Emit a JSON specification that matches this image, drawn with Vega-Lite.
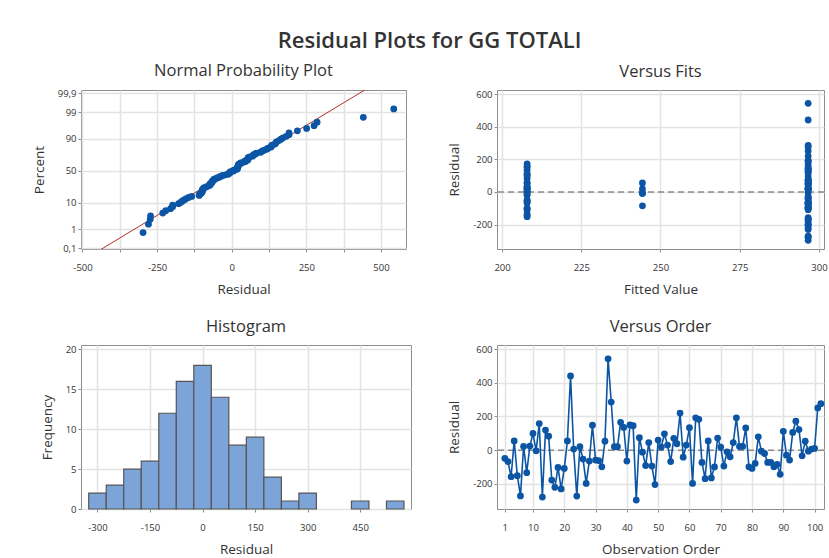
{
  "$schema": "https://vega.github.io/schema/vega-lite/v6.json",
  "background": "white",
  "padding": {"left": 31, "top": 30, "right": 5, "bottom": 5},
  "title": {"text": "Residual Plots for GG TOTALI", "fontSize": 22, "fontWeight": 600, "font": "Open Sans", "color": "#333333", "anchor": "middle", "frame": "bounds", "offset": -8, "baseline": "alphabetic"},
  "config": {
    "font": "Open Sans",
    "view": {"stroke": "#8c8c8c", "strokeWidth": 1},
    "axis": {"grid": true, "gridColor": "#e3e3e3", "gridWidth": 1.5, "domain": false, "ticks": true, "tickColor": "#8c8c8c", "tickSize": 3, "labelFont": "Open Sans", "labelFontSize": 9.5, "labelColor": "#333333", "titleFont": "Open Sans", "titleFontSize": 13.5, "titleFontWeight": "normal", "titleColor": "#333333", "labelPadding": 2, "labelOverlap": false},
    "axisX": {"labelPadding": 10, "titlePadding": 11},
    "title": {"font": "Open Sans", "fontSize": 16.5, "fontWeight": "normal", "color": "#333333", "baseline": "alphabetic", "offset": 9, "anchor": "middle"}
  },
  "datasets": {
    "res": [
      {"order":1,"residual":-49,"fit":207.9},{"order":2,"residual":-68,"fit":207.9},{"order":3,"residual":-158,"fit":296.6},{"order":4,"residual":55,"fit":296.6},
      {"order":5,"residual":-152,"fit":207.9},{"order":6,"residual":-272,"fit":296.6},{"order":7,"residual":22,"fit":296.6},{"order":8,"residual":-134,"fit":207.9},
      {"order":9,"residual":24,"fit":207.9},{"order":10,"residual":99,"fit":207.9},{"order":11,"residual":-4,"fit":207.9},{"order":12,"residual":158,"fit":207.9},
      {"order":13,"residual":-279,"fit":296.6},{"order":14,"residual":119,"fit":296.6},{"order":15,"residual":83,"fit":207.9},{"order":16,"residual":-178,"fit":296.6},
      {"order":17,"residual":-221,"fit":296.6},{"order":18,"residual":-103,"fit":207.9},{"order":19,"residual":-231,"fit":296.6},{"order":20,"residual":-109,"fit":207.9},
      {"order":21,"residual":55,"fit":296.6},{"order":22,"residual":441,"fit":296.6},{"order":23,"residual":6,"fit":207.9},{"order":24,"residual":-273,"fit":296.6},
      {"order":25,"residual":20,"fit":207.9},{"order":26,"residual":-53,"fit":207.9},{"order":27,"residual":-198,"fit":296.6},{"order":28,"residual":-65,"fit":296.6},
      {"order":29,"residual":148,"fit":296.6},{"order":30,"residual":-59,"fit":207.9},{"order":31,"residual":-62,"fit":296.6},{"order":32,"residual":-99,"fit":296.6},
      {"order":33,"residual":53,"fit":207.9},{"order":34,"residual":543,"fit":296.6},{"order":35,"residual":286,"fit":296.6},{"order":36,"residual":20,"fit":207.9},
      {"order":37,"residual":20,"fit":296.6},{"order":38,"residual":165,"fit":296.6},{"order":39,"residual":135,"fit":296.6},{"order":40,"residual":-65,"fit":296.6},
      {"order":41,"residual":150,"fit":207.9},{"order":42,"residual":145,"fit":296.6},{"order":43,"residual":-297,"fit":296.6},{"order":44,"residual":74,"fit":296.6},
      {"order":45,"residual":-12,"fit":207.9},{"order":46,"residual":-92,"fit":296.6},{"order":47,"residual":45,"fit":296.6},{"order":48,"residual":-95,"fit":296.6},
      {"order":49,"residual":-205,"fit":296.6},{"order":50,"residual":60,"fit":207.9},{"order":51,"residual":18,"fit":244.3},{"order":52,"residual":97,"fit":296.6},
      {"order":53,"residual":30,"fit":207.9},{"order":54,"residual":-68,"fit":296.6},{"order":55,"residual":70,"fit":296.6},{"order":56,"residual":38,"fit":207.9},
      {"order":57,"residual":220,"fit":296.6},{"order":58,"residual":-42,"fit":296.6},{"order":59,"residual":30,"fit":296.6},{"order":60,"residual":133,"fit":207.9},
      {"order":61,"residual":-198,"fit":296.6},{"order":62,"residual":192,"fit":296.6},{"order":63,"residual":183,"fit":296.6},{"order":64,"residual":-73,"fit":296.6},
      {"order":65,"residual":-170,"fit":296.6},{"order":66,"residual":55,"fit":244.3},{"order":67,"residual":-165,"fit":296.6},{"order":68,"residual":-100,"fit":296.6},
      {"order":69,"residual":72,"fit":296.6},{"order":70,"residual":18,"fit":296.6},{"order":71,"residual":-95,"fit":296.6},{"order":72,"residual":-10,"fit":244.3},
      {"order":73,"residual":-40,"fit":296.6},{"order":74,"residual":45,"fit":296.6},{"order":75,"residual":192,"fit":296.6},{"order":76,"residual":22,"fit":296.6},
      {"order":77,"residual":22,"fit":296.6},{"order":78,"residual":132,"fit":296.6},{"order":79,"residual":-99,"fit":207.9},{"order":80,"residual":-109,"fit":296.6},
      {"order":81,"residual":-79,"fit":296.6},{"order":82,"residual":79,"fit":296.6},{"order":83,"residual":-6,"fit":244.3},{"order":84,"residual":-20,"fit":207.9},
      {"order":85,"residual":-73,"fit":296.6},{"order":86,"residual":-73,"fit":296.6},{"order":87,"residual":-99,"fit":296.6},{"order":88,"residual":-85,"fit":244.3},
      {"order":89,"residual":-144,"fit":207.9},{"order":90,"residual":112,"fit":207.9},{"order":91,"residual":-30,"fit":296.6},{"order":92,"residual":-59,"fit":296.6},
      {"order":93,"residual":105,"fit":207.9},{"order":94,"residual":172,"fit":207.9},{"order":95,"residual":122,"fit":296.6},{"order":96,"residual":-34,"fit":296.6},
      {"order":97,"residual":53,"fit":296.6},{"order":98,"residual":-6,"fit":296.6},{"order":99,"residual":6,"fit":207.9},{"order":100,"residual":10,"fit":296.6},
      {"order":101,"residual":251,"fit":296.6},{"order":102,"residual":276,"fit":296.6}
    ],
    "npp": [
      {"residual":-297,"z":-2.466},{"residual":-279,"z":-2.130},{"residual":-273,"z":-1.937},{"residual":-272,"z":-1.797},{"residual":-231,"z":-1.686},
      {"residual":-221,"z":-1.592},{"residual":-205,"z":-1.511},{"residual":-198,"z":-1.438},{"residual":-198,"z":-1.372},{"residual":-178,"z":-1.312},
      {"residual":-170,"z":-1.256},{"residual":-165,"z":-1.205},{"residual":-158,"z":-1.155},{"residual":-152,"z":-1.109},{"residual":-144,"z":-1.065},
      {"residual":-134,"z":-1.022},{"residual":-109,"z":-0.982},{"residual":-109,"z":-0.943},{"residual":-103,"z":-0.905},{"residual":-100,"z":-0.869},
      {"residual":-99,"z":-0.834},{"residual":-99,"z":-0.800},{"residual":-99,"z":-0.766},{"residual":-95,"z":-0.734},{"residual":-95,"z":-0.702},
      {"residual":-92,"z":-0.671},{"residual":-85,"z":-0.641},{"residual":-79,"z":-0.611},{"residual":-73,"z":-0.582},{"residual":-73,"z":-0.553},
      {"residual":-73,"z":-0.525},{"residual":-68,"z":-0.497},{"residual":-68,"z":-0.470},{"residual":-65,"z":-0.442},{"residual":-65,"z":-0.416},
      {"residual":-62,"z":-0.389},{"residual":-59,"z":-0.363},{"residual":-59,"z":-0.337},{"residual":-53,"z":-0.311},{"residual":-49,"z":-0.285},
      {"residual":-42,"z":-0.260},{"residual":-40,"z":-0.235},{"residual":-34,"z":-0.210},{"residual":-30,"z":-0.185},{"residual":-20,"z":-0.160},
      {"residual":-12,"z":-0.135},{"residual":-10,"z":-0.110},{"residual":-6,"z":-0.086},{"residual":-6,"z":-0.061},{"residual":-4,"z":-0.037},
      {"residual":6,"z":-0.012},{"residual":6,"z":0.012},{"residual":10,"z":0.037},{"residual":18,"z":0.061},{"residual":18,"z":0.086},
      {"residual":20,"z":0.110},{"residual":20,"z":0.135},{"residual":20,"z":0.160},{"residual":22,"z":0.185},{"residual":22,"z":0.210},
      {"residual":22,"z":0.235},{"residual":24,"z":0.260},{"residual":30,"z":0.285},{"residual":30,"z":0.311},{"residual":38,"z":0.337},
      {"residual":45,"z":0.363},{"residual":45,"z":0.389},{"residual":53,"z":0.416},{"residual":53,"z":0.442},{"residual":55,"z":0.470},
      {"residual":55,"z":0.497},{"residual":55,"z":0.525},{"residual":60,"z":0.553},{"residual":70,"z":0.582},{"residual":72,"z":0.611},
      {"residual":74,"z":0.641},{"residual":79,"z":0.671},{"residual":83,"z":0.702},{"residual":97,"z":0.734},{"residual":99,"z":0.766},
      {"residual":105,"z":0.800},{"residual":112,"z":0.834},{"residual":119,"z":0.869},{"residual":122,"z":0.905},{"residual":132,"z":0.943},
      {"residual":133,"z":0.982},{"residual":135,"z":1.022},{"residual":145,"z":1.065},{"residual":148,"z":1.109},{"residual":150,"z":1.155},
      {"residual":158,"z":1.205},{"residual":165,"z":1.256},{"residual":172,"z":1.312},{"residual":183,"z":1.372},{"residual":192,"z":1.438},
      {"residual":192,"z":1.511},{"residual":220,"z":1.592},{"residual":251,"z":1.686},{"residual":276,"z":1.797},{"residual":286,"z":1.937},
      {"residual":441,"z":2.130},{"residual":543,"z":2.466}
    ],
    "fitline": [{"residual":-447,"z":-3.2},{"residual":457,"z":3.3}],
    "zero": [{"residual":0}],
    "hist": [
      {"x0":-325,"x1":-275,"count":2},{"x0":-275,"x1":-225,"count":3},{"x0":-225,"x1":-175,"count":5},{"x0":-175,"x1":-125,"count":6},
      {"x0":-125,"x1":-75,"count":12},{"x0":-75,"x1":-25,"count":16},{"x0":-25,"x1":25,"count":18},{"x0":25,"x1":75,"count":14},
      {"x0":75,"x1":125,"count":8},{"x0":125,"x1":175,"count":9},{"x0":175,"x1":225,"count":4},{"x0":225,"x1":275,"count":1},
      {"x0":275,"x1":325,"count":2},{"x0":425,"x1":475,"count":1},{"x0":525,"x1":575,"count":1}
    ]
  },
  "bounds": "flush",
  "align": "each",
  "columns": 2,
  "spacing": {"row": 96, "column": 86},
  "concat": [
    {
      "width": 325, "height": 159,
      "title": "Normal Probability Plot",
      "encoding": {
        "x": {"field": "residual", "type": "quantitative", "scale": {"domain": [-505, 584], "nice": false, "zero": false},
              "axis": {"title": "Residual", "values": [-500,-375,-250,-125,0,125,250,375,500], "labelOverlap": false, "labelExpr": "datum.value % 250 === 0 ? '' + datum.value : ''"}},
        "y": {"field": "z", "type": "quantitative", "scale": {"domain": [-3.12, 3.22], "nice": false, "zero": false},
              "axis": {"title": "Percent", "values": [-3.0902,-2.3263,-1.2816,0,1.2816,2.3263,3.0902], "labelOverlap": false, "minExtent": 25, "maxExtent": 25, "titlePadding": 10,
                       "labelExpr": "datum.value < -3 ? '0,1' : datum.value < -2 ? '1' : datum.value < -1 ? '10' : datum.value < 1 ? '50' : datum.value < 2 ? '90' : datum.value < 3 ? '99' : '99,9'"}}
      },
      "layer": [
        {"data": {"name": "fitline"}, "mark": {"type": "line", "color": "#b0302a", "strokeWidth": 1, "clip": true}},
        {"data": {"name": "npp"}, "mark": {"type": "circle", "size": 46, "color": "#0b55a4", "opacity": 1}}
      ]
    },
    {
      "width": 327, "height": 159,
      "title": "Versus Fits",
      "encoding": {
        "y": {"field": "residual", "type": "quantitative", "scale": {"domain": [-350, 625], "nice": false, "zero": false},
              "axis": {"title": "Residual", "values": [-200,0,200,400,600], "labelOverlap": false, "labelExpr": "'' + datum.value", "minExtent": 26, "maxExtent": 26, "titlePadding": 10}}
      },
      "layer": [
        {"data": {"name": "zero"}, "mark": {"type": "rule", "color": "#8c8c8c", "strokeDash": [6, 4], "strokeWidth": 1.5}},
        {"data": {"name": "res"}, "mark": {"type": "circle", "size": 46, "color": "#0b55a4", "opacity": 1},
         "encoding": {
           "x": {"field": "fit", "type": "quantitative", "scale": {"domain": [198.4, 301.6], "nice": false, "zero": false},
                 "axis": {"title": "Fitted Value", "values": [200,225,250,275,300], "labelOverlap": false}}
         }}
      ]
    },
    {
      "width": 330, "height": 164,
      "title": "Histogram",
      "data": {"name": "hist"},
      "mark": {"type": "rect", "fill": "#7da4d8", "stroke": "#555555", "strokeWidth": 1.2},
      "encoding": {
        "x": {"field": "x0", "type": "quantitative", "scale": {"domain": [-347, 595], "nice": false, "zero": false},
              "axis": {"title": "Residual", "values": [-300,-150,0,150,300,450], "labelOverlap": false, "labelExpr": "'' + datum.value"}},
        "x2": {"field": "x1"},
        "y": {"field": "count", "type": "quantitative", "scale": {"domain": [0, 20.55], "nice": false},
              "axis": {"title": "Frequency", "values": [0,5,10,15,20], "labelOverlap": false, "minExtent": 20, "maxExtent": 20, "titlePadding": 7}}
      }
    },
    {
      "width": 327, "height": 164,
      "title": "Versus Order",
      "encoding": {
        "y": {"field": "residual", "type": "quantitative", "scale": {"domain": [-350, 625], "nice": false, "zero": false},
              "axis": {"title": "Residual", "values": [-200,0,200,400,600], "labelOverlap": false, "labelExpr": "'' + datum.value", "minExtent": 26, "maxExtent": 26, "titlePadding": 10}}
      },
      "layer": [
        {"data": {"name": "zero"}, "mark": {"type": "rule", "color": "#8c8c8c", "strokeDash": [6, 4], "strokeWidth": 1.5}},
        {"data": {"name": "res"}, "mark": {"type": "line", "color": "#0b55a4", "strokeWidth": 1.6, "point": {"filled": true, "size": 46, "color": "#0b55a4", "opacity": 1}},
         "encoding": {
           "x": {"field": "order", "type": "quantitative", "scale": {"domain": [-1.5, 103], "nice": false, "zero": false},
                 "axis": {"title": "Observation Order", "values": [1,10,20,30,40,50,60,70,80,90,100], "labelOverlap": false}}
         }}
      ]
    }
  ]
}
